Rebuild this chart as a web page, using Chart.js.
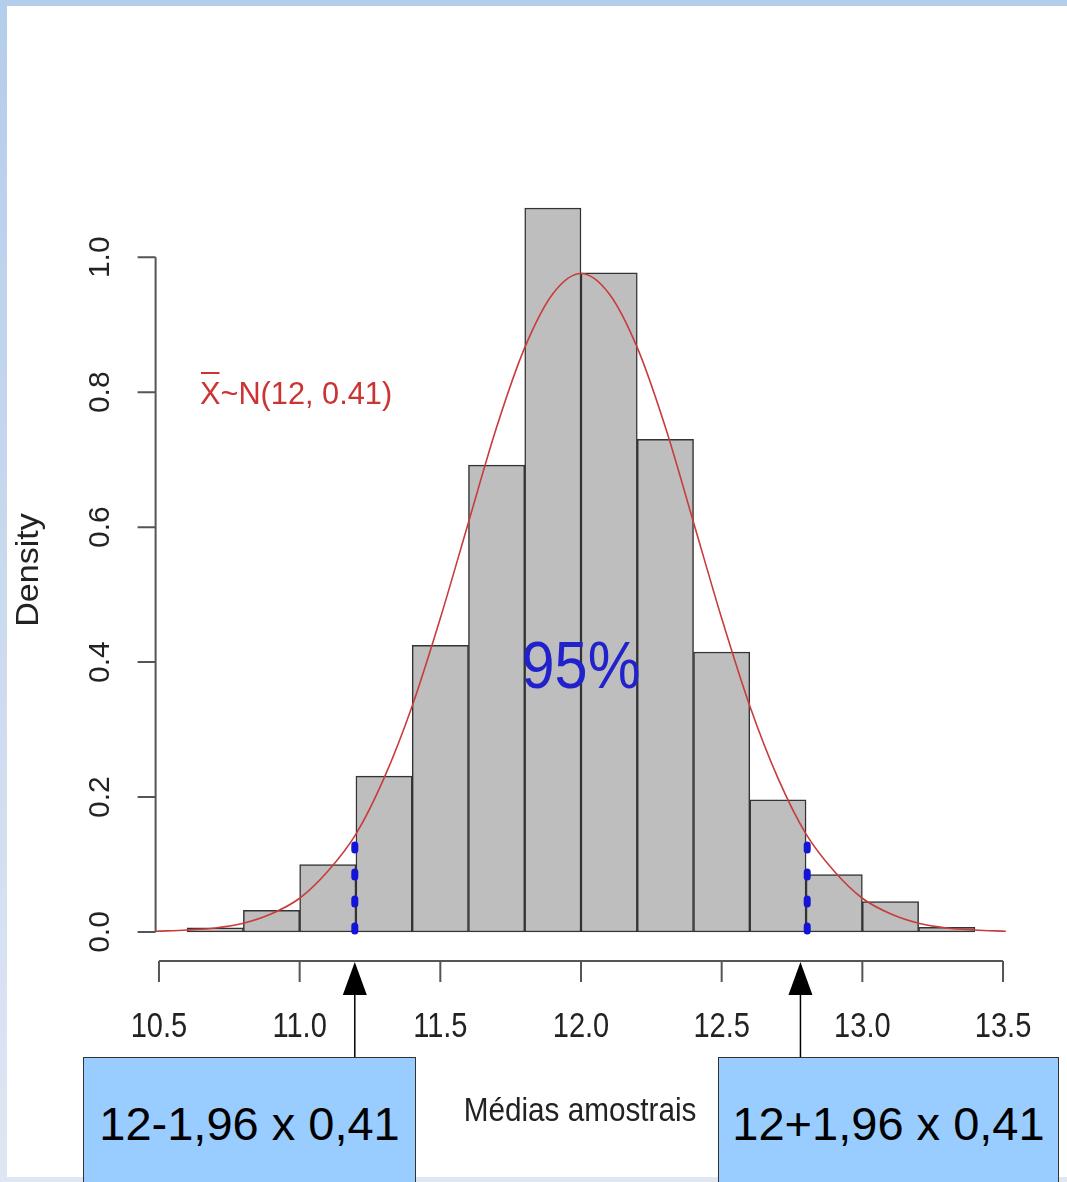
<!DOCTYPE html>
<html>
<head>
<meta charset="utf-8">
<script src="https://cdn.jsdelivr.net/npm/chart.js@4.4.1/dist/chart.umd.min.js"></script>
<style>
html, body { margin: 0; padding: 0; width: 1067px; height: 1182px; overflow: hidden; background: #e0e7f3; }
#topband { position: absolute; left: 0; top: 0; width: 1067px; height: 6px; background: #b4cdea; }
#leftband { position: absolute; left: 0; top: 0; width: 7px; height: 1182px; background: linear-gradient(#b4cdea, #dfe6f3); }
#sheet { position: absolute; left: 7px; top: 6px; width: 1060px; height: 1171px; background: #fff; }
#wrap { position: absolute; left: 0; top: 0; width: 1067px; height: 1182px; }
.box {
    position: absolute; top: 1057px; height: 135px; box-sizing: border-box;
    background: #99ccff; border: 1px solid #333;
    font: 47px "Liberation Sans", Arial, sans-serif; color: #000;
    text-align: center; line-height: 54px; padding-top: 39px; white-space: nowrap;
}
</style>
</head>
<body>
<div id="topband"></div>
<div id="leftband"></div>
<div id="sheet"></div>
<div id="wrap"><canvas id="chart"></canvas></div>
<div class="box" style="left:83px;width:333px;">12-1,96 x 0,41</div>
<div class="box" style="left:718px;width:341px;">12+1,96 x 0,41</div>
<script>
// histogram bins (centres) and densities
const binCenters = [10.7, 10.9, 11.1, 11.3, 11.5, 11.7, 11.9, 12.1, 12.3, 12.5, 12.7, 12.9, 13.1, 13.3];
const densities = [0.006, 0.032, 0.100, 0.231, 0.425, 0.692, 1.073, 0.977, 0.730, 0.415, 0.196, 0.085, 0.045, 0.007];

// normal curve
const curveX = [10.49, 10.6, 10.7, 10.8, 10.9, 11.0, 11.1, 11.2, 11.3, 11.4, 11.5, 11.6, 11.7, 11.8, 11.9, 12.0,
                12.1, 12.2, 12.3, 12.4, 12.5, 12.6, 12.7, 12.8, 12.9, 13.0, 13.1, 13.2, 13.3, 13.4, 13.51];
const curveY = [0.001, 0.003, 0.006, 0.013, 0.027, 0.050, 0.090, 0.145, 0.228, 0.335, 0.465, 0.607, 0.748, 0.866, 0.946, 0.976,
                0.946, 0.866, 0.748, 0.607, 0.465, 0.335, 0.228, 0.145, 0.090, 0.050, 0.027, 0.013, 0.006, 0.003, 0.001];

// 95% limits
const limitX = [11.196, 12.804];
const limitTop = 0.14;
const arrowX = [11.196, 12.78];

const xTicks = [10.5, 11.0, 11.5, 12.0, 12.5, 13.0, 13.5];
const xTickLabels = ['10.5', '11.0', '11.5', '12.0', '12.5', '13.0', '13.5'];
const yTicks = [0, 0.2, 0.4, 0.6, 0.8, 1.0];
const yTickLabels = ['0.0', '0.2', '0.4', '0.6', '0.8', '1.0'];

const FONT = '"Liberation Sans", Arial, sans-serif';

function text(ctx, str, x, y, size, color, sx, align) {
    ctx.save();
    ctx.translate(x, y);
    ctx.scale(sx, 1);
    ctx.font = size + 'px ' + FONT;
    ctx.fillStyle = color;
    ctx.textAlign = align || 'center';
    ctx.textBaseline = 'alphabetic';
    ctx.fillText(str, 0, 0);
    ctx.restore();
}

function vtext(ctx, str, x, y, size, color, sx) {
    ctx.save();
    ctx.translate(x, y);
    ctx.rotate(-Math.PI / 2);
    ctx.scale(sx, 1);
    ctx.font = size + 'px ' + FONT;
    ctx.fillStyle = color;
    ctx.textAlign = 'center';
    ctx.textBaseline = 'middle';
    ctx.fillText(str, 0, 0);
    ctx.restore();
}

const rAxes = {
    id: 'rAxes',
    afterDatasetsDraw(chart) {
        // dashed limits, on top of bars and curve
        const ctx = chart.ctx;
        const xs = chart.scales.x, ys = chart.scales.y;
        ctx.save();
        ctx.strokeStyle = '#1414d8';
        ctx.lineWidth = 7;
        ctx.lineCap = 'round';
        ctx.setLineDash([5, 22]);
        limitX.forEach(v => {
            const px = xs.getPixelForValue(v);
            ctx.beginPath();
            ctx.moveTo(px, ys.getPixelForValue(0) - 1);
            ctx.lineTo(px, ys.getPixelForValue(limitTop));
            ctx.stroke();
        });
        ctx.restore();
    },
    afterDraw(chart) {
        const ctx = chart.ctx;
        const xs = chart.scales.x, ys = chart.scales.y;
        const area = chart.chartArea;
        ctx.save();
        ctx.strokeStyle = '#555';
        ctx.lineWidth = 2;

        // x axis
        const ay = area.bottom;
        ctx.beginPath();
        ctx.moveTo(xs.getPixelForValue(xTicks[0]), ay);
        ctx.lineTo(xs.getPixelForValue(xTicks[xTicks.length - 1]), ay);
        xTicks.forEach(v => {
            const px = xs.getPixelForValue(v);
            ctx.moveTo(px, ay);
            ctx.lineTo(px, ay + 21);
        });
        ctx.stroke();
        xTicks.forEach((v, i) => text(ctx, xTickLabels[i], xs.getPixelForValue(v), ay + 76, 35, '#222', 0.83));

        // y axis
        const ax = area.left;
        ctx.beginPath();
        ctx.moveTo(ax, ys.getPixelForValue(yTicks[0]));
        ctx.lineTo(ax, ys.getPixelForValue(yTicks[yTicks.length - 1]));
        yTicks.forEach(v => {
            const py = ys.getPixelForValue(v);
            ctx.moveTo(ax, py);
            ctx.lineTo(ax - 18, py);
        });
        ctx.stroke();
        yTicks.forEach((v, i) => vtext(ctx, yTickLabels[i], ax - 55, ys.getPixelForValue(v), 30, '#222', 1.0));

        // axis titles
        vtext(ctx, 'Density', 29, 570, 31, '#222', 1.1);
        text(ctx, 'Médias amostrais', 580, 1121, 33, '#222', 0.9);

        // formula
        const fx = 200, fy = 404;
        text(ctx, 'X~N(12, 0.41)', fx, fy, 32, '#cc3333', 0.96, 'left');
        ctx.font = '32px ' + FONT;
        const xw = ctx.measureText('X').width * 0.96;
        ctx.strokeStyle = '#cc3333';
        ctx.lineWidth = 2;
        ctx.beginPath();
        ctx.moveTo(fx + 1, fy - 31);
        ctx.lineTo(fx + xw - 1, fy - 31);
        ctx.stroke();

        // 95%
        text(ctx, '95%', xs.getPixelForValue(12), 688, 66, '#2222cc', 0.9);

        // arrows to the boxes
        ctx.strokeStyle = '#000';
        ctx.fillStyle = '#000';
        ctx.lineWidth = 1.5;
        arrowX.forEach(v => {
            const px = xs.getPixelForValue(v);
            ctx.beginPath();
            ctx.moveTo(px, 1057);
            ctx.lineTo(px, 992);
            ctx.stroke();
            ctx.beginPath();
            ctx.moveTo(px, ay + 1);
            ctx.lineTo(px - 12, 995);
            ctx.lineTo(px + 12, 995);
            ctx.closePath();
            ctx.fill();
        });
        ctx.restore();
    }
};

const datasets = [
    {
        type: 'bar',
        data: binCenters.map((x, i) => ({ x: x, y: densities[i] })),
        backgroundColor: '#bebebe',
        borderColor: '#333',
        borderWidth: 1.5,
        borderSkipped: false,
        barPercentage: 1,
        categoryPercentage: 1,
        order: 3
    },
    {
        type: 'line',
        data: curveX.map((x, i) => ({ x: x, y: curveY[i] })),
        borderColor: '#c83c3c',
        borderWidth: 1.6,
        pointRadius: 0,
        cubicInterpolationMode: 'monotone',
        fill: false,
        clip: 4,
        order: 2
    }
];

new Chart(document.getElementById('chart'), {
    type: 'bar',
    data: { datasets: datasets },
    options: {
        responsive: true,
        maintainAspectRatio: false,
        animation: false,
        layout: { padding: { left: 155.6, right: 60.6, top: 179, bottom: 221 } },
        scales: {
            x: { type: 'linear', min: 10.488, max: 13.512, offset: false, display: false },
            y: { type: 'linear', min: -0.043, max: 1.116, display: false }
        },
        plugins: { legend: { display: false }, tooltip: { enabled: false } }
    },
    plugins: [rAxes]
});
</script>
</body>
</html>
